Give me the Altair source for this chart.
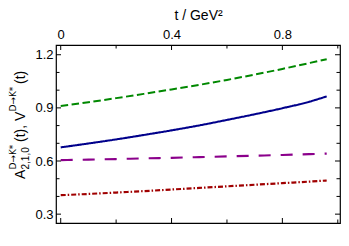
import altair as alt
import pandas as pd

# ---- data ----
t_vals = [0.0, 0.1, 0.2, 0.3, 0.4, 0.5, 0.6, 0.7, 0.8, 0.9, 0.96]
V_vals = [0.910, 0.932, 0.955, 0.979, 1.004, 1.030, 1.058, 1.088, 1.120, 1.154, 1.175]
A0_vals = [0.677, 0.699, 0.722, 0.747, 0.773, 0.801, 0.832, 0.864, 0.898, 0.936, 0.965]
A1_vals = [0.605, 0.608, 0.611, 0.615, 0.618, 0.622, 0.626, 0.630, 0.634, 0.639, 0.642]
A2_vals = [0.407, 0.414, 0.422, 0.430, 0.439, 0.448, 0.457, 0.466, 0.475, 0.484, 0.490]

series_names = ["V", "A0", "A1", "A2"]
series_colors = ["#008800", "#00008B", "#8B008B", "#A00000"]
series_dash = [[7.5, 3.5], [1, 0], [12, 10], [5, 2, 1.5, 2]]
series_width = [2, 2.2, 2.4, 2.3]

x_ticks = [0.0, 0.2, 0.4, 0.6, 0.8, 1.0]
x_labels = [0.0, 0.4, 0.8]
y_ticks = [0.3, 0.4, 0.5, 0.6, 0.7, 0.8, 0.9, 1.0, 1.1, 1.2]
y_labels = [0.3, 0.6, 0.9, 1.2]

W, H = 284, 178
FONT = "Liberation Sans"

rows = []
for name, vals in zip(series_names, [V_vals, A0_vals, A1_vals, A2_vals]):
    for t, v in zip(t_vals, vals):
        rows.append({"t": t, "value": v, "series": name})
df = pd.DataFrame(rows)

xscale = alt.Scale(domain=[-0.017, 1.008], nice=False, zero=False)
yscale = alt.Scale(domain=[0.25, 1.255], nice=False, zero=False)
xaxis = alt.Axis(orient="top", values=x_labels, format="~g", tickSize=0,
                 domain=False, grid=False, labelPadding=4,
                 title="t / GeV²", titlePadding=6)
yaxis = alt.Axis(values=y_labels, format="~g", tickSize=0, domain=False,
                 grid=False, labelPadding=3, title=None)

lines = alt.Chart(df).mark_line(interpolate="monotone").encode(
    x=alt.X("t:Q", scale=xscale, axis=xaxis),
    y=alt.Y("value:Q", scale=yscale, axis=yaxis),
    color=alt.Color("series:N", scale=alt.Scale(domain=series_names, range=series_colors), legend=None),
    strokeDash=alt.StrokeDash("series:N", scale=alt.Scale(domain=series_names, range=series_dash), legend=None),
    strokeWidth=alt.StrokeWidth("series:N", scale=alt.Scale(domain=series_names, range=series_width), legend=None),
)

xt = pd.DataFrame({"t": x_ticks, "major": [t in x_labels for t in x_ticks]})
yt = pd.DataFrame({"value": y_ticks, "major": [round(v, 2) in y_labels for v in y_ticks]})

def xtick(y0, sign):
    base = alt.Chart(xt)
    maj = base.transform_filter("datum.major").mark_rule(color="black", strokeWidth=1).encode(
        x=alt.X("t:Q", scale=xscale, axis=xaxis), y=alt.value(y0), y2=alt.value(y0 + sign * 5))
    mnr = base.transform_filter("!datum.major").mark_rule(color="black", strokeWidth=1).encode(
        x=alt.X("t:Q", scale=xscale, axis=xaxis), y=alt.value(y0), y2=alt.value(y0 + sign * 3.5))
    return [maj, mnr]

def ytick(x0, sign):
    base = alt.Chart(yt)
    maj = base.transform_filter("datum.major").mark_rule(color="black", strokeWidth=1).encode(
        y=alt.Y("value:Q", scale=yscale, axis=yaxis), x=alt.value(x0), x2=alt.value(x0 + sign * 5))
    mnr = base.transform_filter("!datum.major").mark_rule(color="black", strokeWidth=1).encode(
        y=alt.Y("value:Q", scale=yscale, axis=yaxis), x=alt.value(x0), x2=alt.value(x0 + sign * 3.5))
    return [maj, mnr]

ticks = xtick(0, 1) + xtick(H, -1) + ytick(0, 1) + ytick(W, -1)

# y title made of pieces (main text, subscript, superscripts)
one = pd.DataFrame({"a": [0]})
def piece(text, x, y, size, font=FONT):
    return alt.Chart(one).mark_text(text=text, angle=270, align="left", baseline="alphabetic",
                                    font=font, fontSize=size, color="black").encode(
        x=alt.value(x), y=alt.value(y))

title_pieces = [
    piece("A", -31, 134, 14),
    piece("2,1,0", -27.5, 124.5, 10),
    piece("D→K̄*", -40, 124.5, 9, "DejaVu Sans"),
    piece("(t), V", -31, 97, 14),
    piece("D→K̄*", -40, 66.5, 9, "DejaVu Sans"),
    piece("(t)", -31, 39, 14),
]

chart = alt.layer(lines, *ticks, *title_pieces).properties(
    width=W, height=H,
    autosize=alt.AutoSizeParams(type="none"),
    padding={"left": 48, "top": 37, "right": 1, "bottom": 6},
).configure_view(stroke="black", strokeWidth=1.2).configure_axis(
    labelFont=FONT, labelFontSize=13, labelColor="black",
    titleFont=FONT, titleFontSize=14, titleColor="black", titleFontWeight="normal",
)

chart.save("out.html", embed_options={"renderer": "svg", "actions": False})
